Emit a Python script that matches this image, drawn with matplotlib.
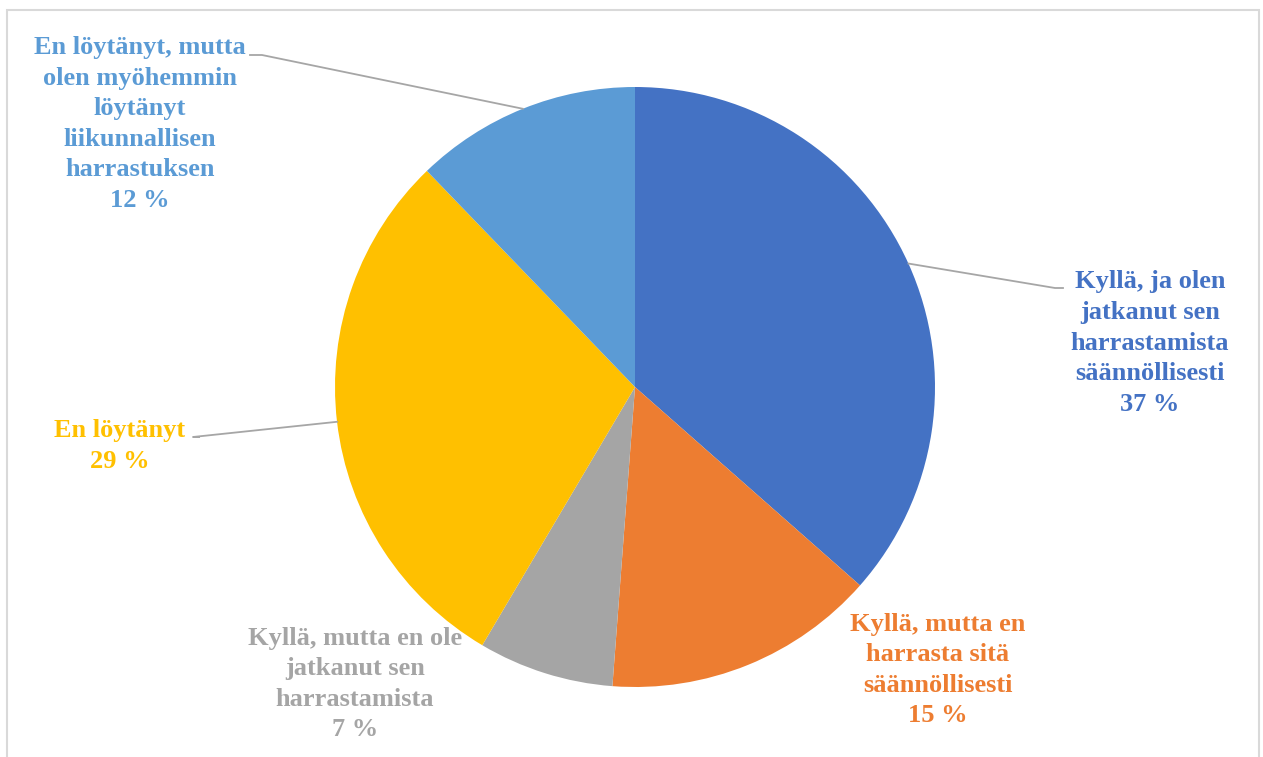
import numpy as np
import matplotlib
matplotlib.use("Agg")
import matplotlib.pyplot as plt
from matplotlib.patches import Rectangle

labels = [
    "Kyllä, ja olen\njatkanut sen\nharrastamista\nsäännöllisesti",
    "Kyllä, mutta en\nharrasta sitä\nsäännöllisesti",
    "Kyllä, mutta en ole\njatkanut sen\nharrastamista",
    "En löytänyt",
    "En löytänyt, mutta\nolen myöhemmin\nlöytänyt\nliikunnallisen\nharrastuksen",
]
values = [36.5, 14.7, 7.3, 29.3, 12.2]
percent_labels = ["37 %", "15 %", "7 %", "29 %", "12 %"]
colors = ["#4472C4", "#ED7D31", "#A5A5A5", "#FFC000", "#5B9BD5"]

W, H = 1263, 757
fig = plt.figure(figsize=(W / 100, H / 100), dpi=100)
ax = fig.add_axes([0, 0, 1, 1])

# frame
fig.patches.append(Rectangle((7 / W, -0.05), (1259 - 7) / W, (H - 10) / H + 0.05,
                             transform=fig.transFigure, fill=False,
                             edgecolor="#D9D9D9", linewidth=1.5))

cx, cy, r = 635, H - 387, 300
wedges, _ = ax.pie(values, colors=colors, startangle=90, counterclock=False,
                   center=(cx, cy), radius=r, frame=True,
                   wedgeprops=dict(linewidth=0))
ax.set_xlim(0, W)
ax.set_ylim(0, H)
ax.set_aspect("equal")
ax.axis("off")

font = dict(family=["Liberation Serif", "DejaVu Serif"], weight="bold", fontsize=19)

# label centers (pixel coords from top), and leader line end points
label_pos = [(1150, 343), (938, 670), (355, 684), (120, 446), (140, 124)]
leaders = [[(1055, 288), (1063, 288)], None, None, [(193, 437), (199, 437)],
           [(262, 55), (250, 55)]]

for w, lab, pl, col, (lx, ly), ld in zip(wedges, labels, percent_labels, colors, label_pos, leaders):
    ax.text(lx, H - ly, f"{lab}\n{pl}", color=col, ha="center", va="center",
            linespacing=1.42, **font)
    if ld is not None:
        th = np.deg2rad((w.theta1 + w.theta2) / 2)
        px, py = cx + r * np.cos(th), cy + r * np.sin(th)
        xs = [px] + [p[0] for p in ld]
        ys = [py] + [H - p[1] for p in ld]
        ax.plot(xs, ys, color="#A6A6A6", linewidth=1.3)

fig.savefig("out.png", dpi=100)
